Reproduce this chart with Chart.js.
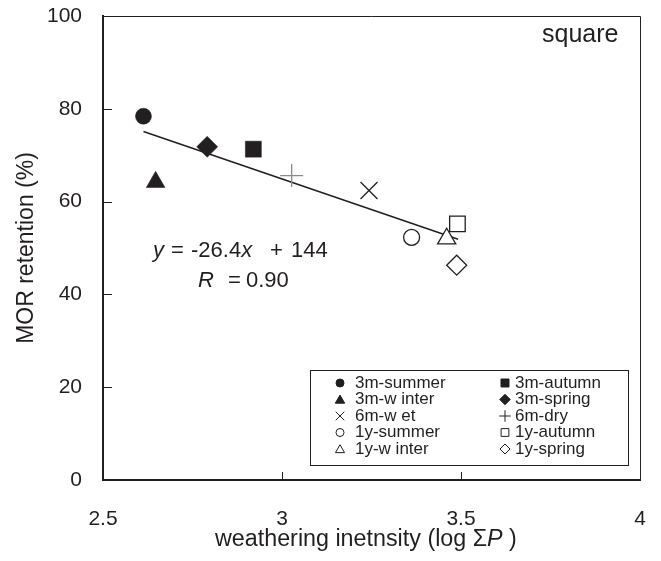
<!DOCTYPE html>
<html>
<head>
<meta charset="utf-8">
<title>MOR retention vs weathering intensity</title>
<script src="https://cdn.jsdelivr.net/npm/chart.js@4.4.1/dist/chart.umd.min.js"></script>
<style>
  html, body { margin: 0; padding: 0; background: #fff; }
  #wrap { width: 661px; height: 561px; }
</style>
</head>
<body>
<div id="wrap"><canvas id="myChart" width="661" height="561"></canvas></div>
<script>
// ---------------- data ----------------
const seriesNames = ['3m-summer', '3m-autumn', '3m-w inter', '3m-spring', '6m-w et', '6m-dry',
                     '1y-summer', '1y-autumn', '1y-w inter', '1y-spring'];
const xValues = [2.613, 2.920, 2.647, 2.791, 3.243, 3.027, 3.362, 3.490, 3.460, 3.488];
const yValues = [78.4, 71.3, 64.2, 71.8, 62.4, 65.6, 52.3, 55.2, 52.0, 46.3];
// regression line end points (y = -26.4x + 144)
const trendX = [2.613, 3.492];
const trendY = [75.1, 51.9];
const xTicks = [2.5, 3, 3.5, 4];
const yTicks = [0, 20, 40, 60, 80, 100];

// ---------------- marker styles ----------------
const ink = '#231f20';
const markerStyle = [
    { style: 'circle',   fill: true,  r: 8 },
    { style: 'rect',     fill: true,  r: 11.3 },
    { style: 'triangle', fill: true,  r: 10.8 },
    { style: 'rectRot',  fill: true,  r: 10.5 },
    { style: 'crossRot', fill: false, r: 12 },
    { style: 'cross',    fill: false, r: 11.5, color: '#8a8a8a' },
    { style: 'circle',   fill: false, r: 8 },
    { style: 'rect',     fill: false, r: 11 },
    { style: 'triangle', fill: false, r: 10.5 },
    { style: 'rectRot',  fill: false, r: 10 },
];

let datasets = seriesNames.map(function (name, i) {
    let m = markerStyle[i];
    let col = m.color || ink;
    return {
        type: 'scatter',
        label: name,
        data: [{ x: xValues[i], y: yValues[i] }],
        pointStyle: m.style,
        pointRadius: m.r,
        pointBackgroundColor: m.fill ? col : '#fff',
        pointBorderColor: col,
        pointBorderWidth: m.fill ? 0.5 : 1.3,
        order: 1
    };
});
datasets.unshift({
    type: 'line',
    label: 'trend',
    data: trendX.map((x, i) => ({ x: x, y: trendY[i] })),
    borderColor: ink,
    borderWidth: 1.5,
    pointRadius: 0,
    fill: false,
    order: 2
});

const FONT = '"Liberation Sans", Arial, Helvetica, sans-serif';

// draws a run of text pieces, some italic, starting at x
function drawRuns(ctx, runs, x, y, size) {
    ctx.textBaseline = 'middle';
    ctx.textAlign = 'left';
    runs.forEach(function (r) {
        ctx.font = (r.i ? 'italic ' : '') + size + 'px ' + FONT;
        let px = (r.x !== undefined) ? r.x : x;
        ctx.fillText(r.t, px, y);
        x = px + ctx.measureText(r.t).width;
    });
}

/*------------------------------ frame, ticks, texts, legend ------------------------------*/
const decorPlugin = {
    id: 'decor',
    afterDraw(chart) {
        const ctx = chart.ctx;
        const a = chart.chartArea;
        const xs = chart.scales.x, ys = chart.scales.y;
        ctx.save();
        ctx.strokeStyle = ink;
        ctx.fillStyle = ink;

        // thin top / right frame
        ctx.lineWidth = 1;
        ctx.beginPath();
        ctx.moveTo(a.left, a.top + 0.5);
        ctx.lineTo(a.right + 0.5, a.top + 0.5);
        ctx.lineTo(a.right + 0.5, a.bottom);
        ctx.stroke();

        // inward tick marks
        ctx.lineWidth = 1;
        ctx.beginPath();
        yTicks.forEach(function (v) {
            let p = Math.round(ys.getPixelForValue(v)) + 0.5;
            ctx.moveTo(a.left, p); ctx.lineTo(a.left + 9, p);
        });
        xTicks.forEach(function (v) {
            let p = Math.round(xs.getPixelForValue(v)) + 0.5;
            ctx.moveTo(p, a.bottom); ctx.lineTo(p, a.bottom - 8);
        });
        ctx.stroke();

        // axis titles
        drawRuns(ctx, [{ t: 'weathering inetnsity (log \u03A3' }, { t: 'P', i: true }, { t: ' )' }], 215, 540, 23.3);

        ctx.save();
        ctx.translate(27, (a.top + a.bottom) / 2);
        ctx.rotate(-Math.PI / 2);
        ctx.font = '23px ' + FONT;
        ctx.textAlign = 'center';
        ctx.textBaseline = 'middle';
        ctx.fillText('MOR retention (%)', 0, 0);
        ctx.restore();

        // panel label
        ctx.font = '25px ' + FONT;
        ctx.textAlign = 'left';
        ctx.textBaseline = 'middle';
        ctx.fillText('square', 542, 35);

        // regression text
        drawRuns(ctx, [{ t: 'y', i: true, x: 153 }, { t: '=', x: 171 }, { t: '-26.4', x: 191 },
                       { t: 'x', i: true }, { t: '+', x: 270 }, { t: '144', x: 291 }], 153, 251, 22);
        drawRuns(ctx, [{ t: 'R', i: true, x: 198 }, { t: '=', x: 228 }, { t: '0.90', x: 246 }], 198, 281, 22);

        // legend box
        const lx = 310, ly = 370, lw = 318, lh = 95;
        ctx.fillStyle = '#fff';
        ctx.fillRect(lx, ly, lw, lh);
        ctx.lineWidth = 1;
        ctx.strokeStyle = ink;
        ctx.strokeRect(lx + 0.5, ly + 0.5, lw, lh);
        const rowY = [383, 399.5, 416, 432.5, 449];
        const colMark = [340, 505];
        const colText = [355, 515];
        chart.data.datasets.forEach(function (ds) {
            if (ds.type !== 'scatter') return;
            let i = seriesNames.indexOf(ds.label);
            let row = Math.floor(i / 2), col = i % 2;
            let m = markerStyle[i];
            ctx.fillStyle = m.fill ? ink : '#fff';
            ctx.strokeStyle = ink;
            let rad = m.r * 0.5;
            Chart.helpers.drawPoint(ctx, {
                pointStyle: m.style, rotation: 0, radius: rad,
                borderWidth: m.fill ? 0.5 : 1.1
            }, colMark[col], rowY[row] + (m.style === 'triangle' ? 1 : 0));
            ctx.fillStyle = ink;
            ctx.font = '17px ' + FONT;
            ctx.textAlign = 'left';
            ctx.textBaseline = 'middle';
            ctx.fillText(ds.label, colText[col], rowY[row]);
        });
        ctx.restore();
    }
};

function noPad(scale) {
    scale.paddingLeft = 0; scale.paddingRight = 0;
    scale.paddingTop = 0; scale.paddingBottom = 0;
}

/*------------------------------ chart ------------------------------*/
var ctx = document.getElementById('myChart').getContext('2d');
var myChart = new Chart(ctx, {
    data: { datasets: datasets },
    options: {
        responsive: false,
        animation: false,
        events: [],
        layout: { padding: { top: 16, right: 21, left: 0, bottom: 0 } },
        scales: {
            x: {
                type: 'linear',
                min: 2.5,
                max: 4,
                afterFit(scale) { scale.height = 81; noPad(scale); },
                afterBuildTicks(scale) { scale.ticks = xTicks.map(v => ({ value: v })); },
                grid: { display: false, drawTicks: false },
                border: { display: true, color: ink, width: 2 },
                ticks: { color: ink, padding: 27, font: { family: FONT, size: 21 }, callback: v => String(v) }
            },
            y: {
                type: 'linear',
                min: 0,
                max: 100,
                afterFit(scale) { scale.width = 103; noPad(scale); },
                afterBuildTicks(scale) { scale.ticks = yTicks.map(v => ({ value: v })); },
                grid: { display: false, drawTicks: false },
                border: { display: true, color: ink, width: 2 },
                ticks: { color: ink, padding: 21, font: { family: FONT, size: 21 }, callback: v => String(v) }
            }
        },
        plugins: {
            legend: { display: false },
            tooltip: { enabled: false }
        }
    },
    plugins: [decorPlugin]
});
</script>
</body>
</html>
